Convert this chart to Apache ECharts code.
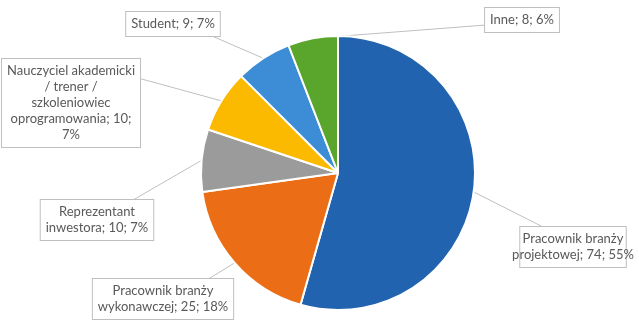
<!DOCTYPE html>
<html>
<head>
    <meta charset="utf-8">
    <script src="https://cdn.jsdelivr.net/npm/echarts@6/dist/echarts.min.js"></script>
    <style>
        html, body { margin: 0; padding: 0; background: #fff; }
        #main { width: 639px; height: 321px; }
    </style>
</head>
<body>
    <div id="main"></div>
    <script type="text/javascript">
        // data (line breaks as in the original labels)
        var names = [
            'Pracownik branży\nprojektowej',
            'Pracownik branży\nwykonawczej',
            'Reprezentant\ninwestora',
            'Nauczyciel akademicki\n/ trener /\nszkoleniowiec\noprogramowania',
            'Student',
            'Inne'
        ];
        var counts = [74, 25, 10, 10, 9, 8];
        var percents = [55, 18, 7, 7, 7, 6];
        var colors = ['#2163ae', '#eb6e16', '#9b9b9b', '#fbb900', '#3c8cd6', '#5aa52c'];
        // the long label also wraps before the percent
        var breakBeforePct = [false, false, false, true, false, false];

        // label box centres and where the leader line meets the box
        var labelPos = [[573, 247], [163, 299], [97, 220], [71, 103], [173, 24], [522, 20]];
        var lineEnd = [[545, 228], [205, 281], [133, 200], [138, 78], [212, 36], [486, 25]];

        var myChart = echarts.init(document.getElementById('main'));

        var pieData = names.map(function (n, i) {
            return {
                name: n,
                value: counts[i],
                itemStyle: { color: colors[i] }
            };
        });

        myChart.setOption({
            animation: false,
            series: [{
                type: 'pie',
                center: [338, 173],
                radius: 137,
                startAngle: 90,
                clockwise: true,
                data: pieData,
                itemStyle: {
                    borderColor: '#fff',
                    borderWidth: 2
                },
                label: {
                    show: true,
                    position: 'outside',
                    overflow: 'none',
                    formatter: function (p) {
                        var i = p.dataIndex;
                        return p.name + '; ' + p.value + ';' + (breakBeforePct[i] ? '\n' : ' ') + percents[i] + '%';
                    },
                    fontFamily: 'Lato',
                    fontSize: 13,
                    lineHeight: 16,
                    color: '#595959',
                    align: 'center',
                    backgroundColor: '#fff',
                    borderColor: '#bfbfbf',
                    borderWidth: 1,
                    padding: [4, 5]
                },
                labelLine: {
                    show: true,
                    lineStyle: { color: '#bfbfbf', width: 1 }
                },
                labelLayout: function (params) {
                    var i = params.dataIndex;
                    var start = params.labelLinePoints ? params.labelLinePoints[0] : lineEnd[i];
                    return {
                        x: labelPos[i][0],
                        y: labelPos[i][1],
                        align: 'center',
                        verticalAlign: 'middle',
                        labelLinePoints: [start, lineEnd[i], lineEnd[i]]
                    };
                }
            }]
        });
    </script>
</body>
</html>
